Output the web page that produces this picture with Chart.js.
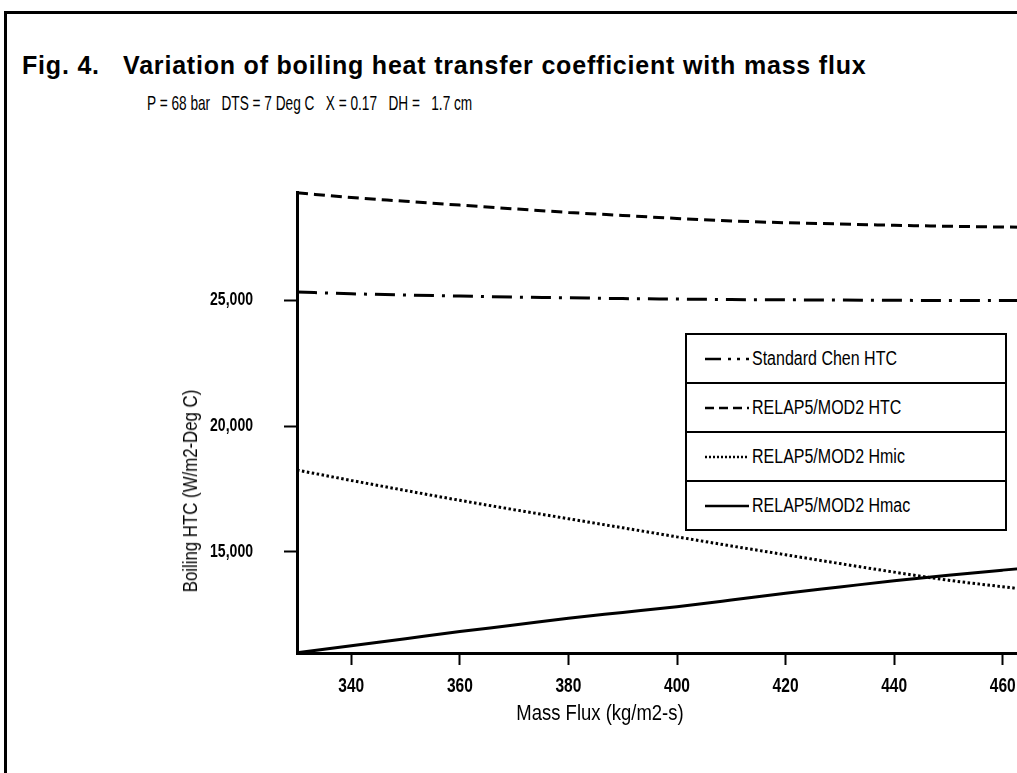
<!DOCTYPE html>
<html lang="en">
<head>
  <meta charset="UTF-8">
  <title>Fig. 4 - Boiling HTC vs mass flux</title>
  <script src="https://cdn.jsdelivr.net/npm/chart.js"></script>
  <style>
    body { margin: 0; background: #fff; overflow: hidden; }
    #page { position: relative; width: 1017px; height: 773px; overflow: hidden; }
    #frame {
      position: absolute; left: 4px; top: 11px; width: 1100px; height: 800px;
      border-top: 3px solid #000; border-left: 3px solid #000;
    }
    .narrow { font-family: "Liberation Sans", Arial, sans-serif; }
    #title {
      position: absolute; left: 22px; top: 51px; white-space: pre; letter-spacing: 0.8px;
      font: bold 25px "Liberation Sans", Arial, sans-serif;
    }
    #subtitle {
      position: absolute; left: 147px; top: 91px; font-size: 21px; white-space: pre;
      transform: scaleX(0.65); transform-origin: left center;
    }
    .chart-box { position: absolute; left: 0; top: 0; width: 1060px; height: 773px; }
    #ytitle {
      position: absolute; left: 190px; top: 491px; font-size: 21px; white-space: nowrap;
      transform: translate(-50%, -50%) rotate(-90deg) scaleX(0.8);
    }
    #xtitle {
      position: absolute; left: 600px; top: 713px; font-size: 22px; white-space: nowrap;
      transform: translate(-50%, -50%) scaleX(0.84);
    }
    #legend {
      position: absolute; left: 685px; top: 333px; width: 318px;
      border: 2px solid #000; background: #fff; font-size: 20px;
    }
    #legend .row { height: 47px; display: flex; align-items: center; border-top: 2px solid #000; }
    #legend .row:first-child { border-top: none; }
    #legend svg { margin-left: 18px; margin-right: 3px; flex: none; }
    #legend span { display: inline-block; white-space: nowrap; transform: scaleX(0.8); transform-origin: left center; }
  </style>
</head>
<body>
  <div id="page">
    <div id="frame"></div>
    <div id="title">Fig. 4.   Variation of boiling heat transfer coefficient with mass flux</div>
    <div id="subtitle" class="narrow">P = 68 bar   DTS = 7 Deg C   X = 0.17   DH =   1.7 cm</div>
    <div class="chart-box"><canvas id="htcChart"></canvas></div>
    <div id="ytitle" class="narrow">Boiling HTC (W/m2-Deg C)</div>
    <div id="xtitle" class="narrow">Mass Flux (kg/m2-s)</div>
    <div id="legend" class="narrow"></div>
  </div>

  <script>
    // Mass flux (kg/m2-s)
    const massFlux = [330, 340, 350, 360, 370, 380, 390, 400, 410, 420, 430, 440, 450, 460, 470];

    // Boiling HTC (W/m2-Deg C)
    const chenHTC  = [25320, 25250, 25200, 25160, 25120, 25090, 25060, 25040, 25020, 25010, 25000, 24990, 24985, 24980, 24975];
    const relapHTC = [29260, 29070, 28920, 28770, 28620, 28480, 28360, 28240, 28140, 28070, 28020, 27970, 27930, 27900, 27870];
    const relapHmic = [18250, 17840, 17440, 17050, 16680, 16320, 15960, 15600, 15240, 14890, 14540, 14200, 13880, 13620, 13380];
    const relapHmac = [11000, 11280, 11560, 11840, 12100, 12370, 12600, 12830, 13090, 13360, 13610, 13860, 14080, 14280, 14470];

    const seriesNames = ['Standard Chen HTC', 'RELAP5/MOD2 HTC', 'RELAP5/MOD2 Hmic', 'RELAP5/MOD2 Hmac'];
    const xTicks = [340, 360, 380, 400, 420, 440, 460];
    const yTicks = [15000, 20000, 25000];

    // line styles
    const dashes = [[20, 8, 3, 8], [11, 6], [2.5, 2.5], []];
    const legendDashes = ['16 7 3 6 3 6', '9 5', '2 2', ''];
    const seriesData = [chenHTC, relapHTC, relapHmic, relapHmac];

    const datasets = seriesNames.map((name, i) => ({
      label: name,
      data: massFlux.map((x, j) => ({ x: x, y: seriesData[i][j] })),
      borderColor: '#000',
      borderWidth: 3,
      borderDash: dashes[i],
      borderCapStyle: 'butt',
      pointRadius: 0,
      cubicInterpolationMode: 'monotone',
      clip: 4
    }));

    // tick labels in a condensed look (no narrow font installed)
    const condensedTicks = {
      id: 'condensedTicks',
      afterDraw(chart) {
        const c = chart.ctx;
        const xs = chart.scales.x, ys = chart.scales.y;
        c.save();
        c.fillStyle = '#000';
        c.font = 'bold 21px "Liberation Sans", Arial, sans-serif';
        c.textAlign = 'center';
        c.textBaseline = 'top';
        xs.ticks.forEach(t => {
          c.save();
          c.translate(xs.getPixelForValue(t.value), xs.top + 23);
          c.scale(0.74, 1);
          c.fillText(String(t.value), 0, 0);
          c.restore();
        });
        c.font = 'bold 18px "Liberation Sans", Arial, sans-serif';
        c.textAlign = 'right';
        c.textBaseline = 'middle';
        ys.ticks.forEach(t => {
          c.save();
          c.translate(ys.right - 44, ys.getPixelForValue(t.value));
          c.scale(0.78, 1);
          c.fillText(t.value.toLocaleString('en-US'), 0, 0);
          c.restore();
        });
        c.restore();
      }
    };

    const ctx = document.getElementById('htcChart').getContext('2d');
    const htcChart = new Chart(ctx, {
      type: 'line',
      data: { datasets: datasets },
      plugins: [condensedTicks],
      options: {
        responsive: true,
        maintainAspectRatio: false,
        animation: false,
        layout: { padding: { top: 192, right: 3, left: 0, bottom: 0 } },
        plugins: { legend: { display: false }, tooltip: { enabled: false } },
        scales: {
          x: {
            type: 'linear',
            min: 330,
            max: 470,
            afterBuildTicks: (scale) => { scale.ticks = xTicks.map(v => ({ value: v })); },
            afterFit: (scale) => { scale.height = 120; },
            border: { color: '#000', width: 3 },
            grid: { drawOnChartArea: false, drawTicks: true, tickLength: 12, tickColor: '#000', tickWidth: 2 },
            ticks: { display: false }
          },
          y: {
            min: 10990,
            max: 29290,
            afterBuildTicks: (scale) => { scale.ticks = yTicks.map(v => ({ value: v })); },
            afterFit: (scale) => { scale.width = 297; },
            border: { color: '#000', width: 3 },
            grid: { drawOnChartArea: false, drawTicks: true, tickLength: 13, tickColor: '#000', tickWidth: 2 },
            ticks: { display: false }
          }
        }
      }
    });

    // boxed legend, one row per series
    const legendEl = document.getElementById('legend');
    seriesNames.forEach((name, i) => {
      const row = document.createElement('div');
      row.className = 'row';
      row.innerHTML =
        '<svg width="44" height="6"><line x1="0" y1="3" x2="44" y2="3" stroke="#000" stroke-width="2.5"' +
        (legendDashes[i] ? ' stroke-dasharray="' + legendDashes[i] + '"' : '') + '/></svg>' +
        '<span>' + name + '</span>';
      legendEl.appendChild(row);
    });
  </script>
</body>
</html>
